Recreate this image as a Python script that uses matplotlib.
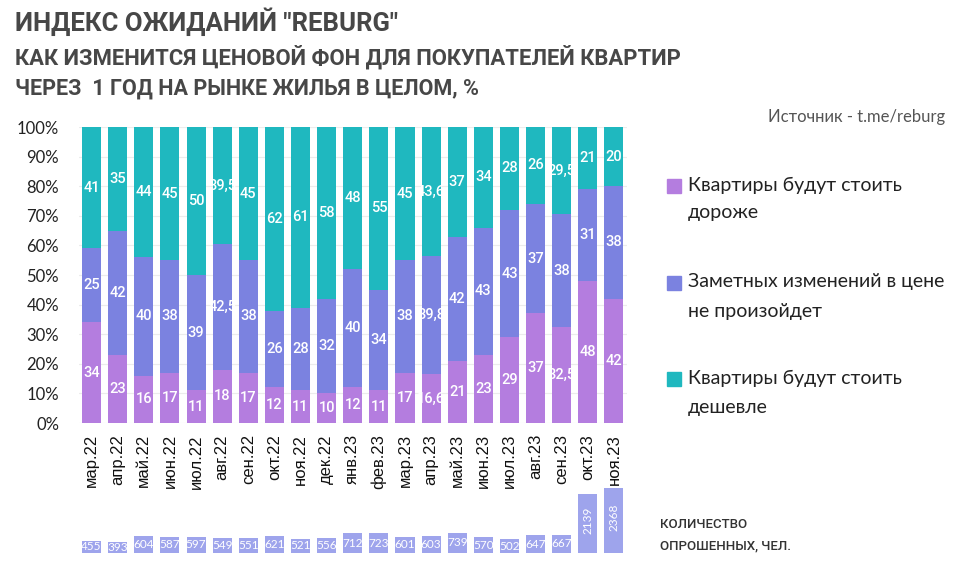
import numpy as np
import matplotlib.pyplot as plt

months = ['мар.22', 'апр.22', 'май.22', 'июн.22', 'июл.22', 'авг.22', 'сен.22',
          'окт.22', 'ноя.22', 'дек.22', 'янв.23', 'фев.23', 'мар.23', 'апр.23',
          'май.23', 'июн.23', 'июл.23', 'авг.23', 'сен.23', 'окт.23', 'ноя.23']
dearer = [34, 23, 16, 17, 11, 18, 17, 12, 11, 10, 12, 11, 17, 16.6, 21, 23, 29, 37, 32.5, 48, 42]
same = [25, 42, 40, 38, 39, 42.5, 38, 26, 28, 32, 40, 34, 38, 39.8, 42, 43, 43, 37, 38, 31, 38]
cheaper = [41, 35, 44, 45, 50, 39.5, 45, 62, 61, 58, 48, 55, 45, 43.6, 37, 34, 28, 26, 29.5, 21, 20]
respondents = [455, 393, 604, 587, 597, 549, 551, 621, 521, 556, 712, 723, 601, 603,
               739, 570, 502, 647, 667, 2139, 2368]

series_names = ['Квартиры будут стоить\nдороже',
                'Заметных изменений в цене\nне произойдет',
                'Квартиры будут стоить\nдешевле']
colors = ['#b47ddf', '#7b82e0', '#1fb8bf']
count_color = '#9ea4ec'

W, H = 974, 574
fig = plt.figure(figsize=(W / 100, H / 100), dpi=100)
fig.patch.set_facecolor('white')


def fx(px):
    return px / W


def fy(py):
    return 1 - py / H


def fmt(v):
    return (f'{v:g}').replace('.', ',')


# main stacked bars
ax = fig.add_axes([fx(78.5), fy(423), fx(627) - fx(78.5), fy(127) - fy(423)])
x = np.arange(len(months))
bottom = np.zeros(len(months))
for vals, col in zip([dearer, same, cheaper], colors):
    vals = np.array(vals, dtype=float)
    bars = ax.bar(x, vals, bottom=bottom, width=0.73, color=col, zorder=2)
    for b, v, b0 in zip(bars, vals, bottom):
        t = ax.text(b.get_x() + b.get_width() / 2, b0 + v / 2, fmt(v),
                    ha='center', va='center', color='white', fontsize=10.5,
                    family='Roboto', fontweight='medium', zorder=3)
        t.set_clip_path(b)
    bottom += vals

ax.set_xlim(-0.5, len(months) - 0.5)
ax.set_ylim(0, 100)
ax.set_yticks(np.arange(0, 101, 10))
ax.set_yticklabels([f'{v}%' for v in range(0, 101, 10)], family='Lato', fontsize=12, color='#222222')
ax.set_xticks(x)
ax.set_xticklabels(months, rotation=90, family='Liberation Sans', fontsize=12, color='#111111')
ax.tick_params(length=0)
ax.tick_params(axis='y', pad=14)
ax.tick_params(axis='x', pad=8)
ax.grid(axis='y', color='#ececec', linewidth=0.8, zorder=0)
for s in ax.spines.values():
    s.set_visible(False)

# respondents mini bars
ax2 = fig.add_axes([fx(78.5), fy(553), fx(627) - fx(78.5), fy(480) - fy(553)])
cb = ax2.bar(x, respondents, width=0.73, color=count_color)
for b, n in zip(cb, respondents):
    big = n > 1000
    ax2.text(b.get_x() + b.get_width() / 2, n / 2 if not big else n * 0.55, str(n),
             ha='center', va='center', color='white', fontsize=8.5,
             family='Lato', rotation=90 if big else 0)
ax2.set_xlim(-0.5, len(months) - 0.5)
ax2.set_ylim(0, max(respondents) * 73 / 65)
ax2.axis('off')

fig.text(fx(660), fy(525), 'КОЛИЧЕСТВО', fontsize=9.5, family='Roboto', fontweight='medium',
         color='#333333', va='center')
fig.text(fx(660), fy(546), 'ОПРОШЕННЫХ, ЧЕЛ.', fontsize=9.5, family='Roboto', fontweight='medium',
         color='#333333', va='center')

# titles
fig.text(fx(15), fy(22), 'ИНДЕКС ОЖИДАНИЙ "REBURG"', fontsize=18.5, family='Roboto',
         fontweight='bold', color='#474747', va='center')
fig.text(fx(15), fy(57), 'КАК ИЗМЕНИТСЯ ЦЕНОВОЙ ФОН ДЛЯ ПОКУПАТЕЛЕЙ КВАРТИР', fontsize=15.8,
         family='Roboto', fontweight='bold', color='#474747', va='center')
fig.text(fx(15), fy(89), 'ЧЕРЕЗ  1 ГОД НА РЫНКЕ ЖИЛЬЯ В ЦЕЛОМ, %', fontsize=15.5,
         family='Roboto', fontweight='bold', color='#474747', va='center')
fig.text(fx(945), fy(117), 'Источник - t.me/reburg', fontsize=12, family='Lato',
         color='#555555', va='center', ha='right')

# legend
leg_y = [(185, 213), (282, 311), (378, 408)]
for name, col, (y1, y2) in zip(series_names, colors, leg_y):
    l1, l2 = name.split('\n')
    fig.patches.append(plt.Rectangle((fx(667), fy(y1 + 8)), fx(14), fy(0) - fy(14),
                                     transform=fig.transFigure, color=col, figure=fig))
    fig.text(fx(688), fy(y1), l1, fontsize=14, family='Lato', color='#222222', va='center')
    fig.text(fx(688), fy(y2), l2, fontsize=14, family='Lato', color='#222222', va='center')

fig.savefig('out.png', dpi=100)
